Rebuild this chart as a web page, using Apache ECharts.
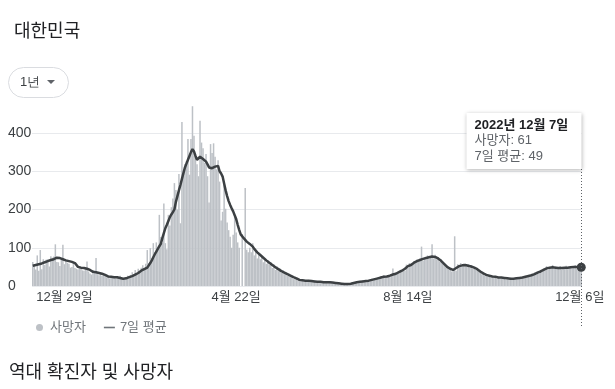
<!DOCTYPE html>
<html><head><meta charset="utf-8">
<script src="https://cdn.jsdelivr.net/npm/echarts@6/dist/echarts.min.js"></script>
<style>html,body{margin:0;padding:0;background:#fff}#c{width:615px;height:389px}</style>
</head><body><div id="c"></div>
<script>
// ---- data (daily deaths, Korea), first day 2021-12-08 ----
const startDate = [2021, 12, 8];
const deathsDec2021 = [63,53,43,80,40,94,44,70,55,69,70,51,78,74,77,109,63,62,52,69,108,57,66,61];
const deathsJan = [58,48,50,62,47,45,43,52,50,41,40,45,64,38,33,30,42,35,73,31,28,32,26,30,28,23,27,20,24,26,21];
const deathsFeb = [20,24,19,27,18,17,21,23,27,24,29,36,25,42,34,45,38,48,54,45,58,94,60,99,72,112,89,114];
const deathsMar = [96,186,128,112,216,112,96,186,158,206,229,269,251,200,293,164,429,301,319,327,384,291,384,470,393,339,318,287,432,375,360];
const deathsApr = [322,345,287,218,371,348,373,338,305,329,273,171,194,264,202,166,146,129,100,134,181,140,114,100,0,136,0,256,95,88];
const deathsMay = [100,88,112,80,90,72,82,70,78,62,73,58,68,55,63,47,57,42,52,39,46,34,42,31,36,26,32,23,28,18,24];
const deathsJun = [21,14,18,13,17,12,15,14,16,11,14,12,15,10,12,9,13,8,11,10,12,8,11,9,10,7,9,6,8,7];
const deathsJul = [7,4,6,3,7,5,6,9,7,10,9,13,10,12,15,11,14,12,17,13,19,15,21,17,22,18,25,20,28,22,27];
const deathsAug = [28,23,31,46,29,35,37,33,42,38,45,40,56,48,60,52,58,65,62,70,63,72,103,66,74,70,80,71,78,109,72];
const deathsSep = [82,70,76,64,69,58,60,49,52,44,47,38,43,130,40,57,49,60,52,58,55,51,57,48,54,46,50,42,45,38];
const deathsOct = [40,31,36,27,30,25,28,22,27,21,25,19,24,20,23,18,22,17,21,19,22,16,20,18,23,19,22,20,25,21,27];
const deathsNov = [24,29,26,32,28,35,30,38,33,42,37,46,41,52,44,50,47,55,46,51,49,45,52,43,50,47,53,44,51,48];
const deathsDec2022 = [52,47,55,46,50,44,61];

// 7-day average
const avgDec2021 = [53,54,55,56,57,58,59,60,62,63,65,66,68,69,70,72,74,74,73,72,70,68,67,66];
const avgJan = [65,64,63,62,60,55,50,49,48,48,47,46,45,44,42,40,37,36,36,35,34,33,32,30,29,27,25,25,24,24,23];
const avgFeb = [23,23,22,21,20,19,19,20,22,23,25,26,28,30,32,34,37,40,42,44,46,48,54,60,67,75,83,90];
const avgMar = [97,104,110,125,138,151,160,170,180,187,193,200,220,235,250,264,280,295,310,320,330,340,350,358,352,340,330,332,338,335,332];
const avgApr = [330,325,318,310,305,308,312,312,315,314,300,294,286,268,250,235,222,212,203,195,185,175,160,147,135,130,125,120,116,113];
const avgMay = [110,106,103,97,92,88,84,81,78,74,71,67,64,61,58,55,52,49,46,44,42,39,37,35,33,31,29,27,25,23,22];
const avgJun = [20,18,16,15,15,14,14,14,14,13,13,13,12,12,11,11,11,10,10,10,10,11,10,10,9,9,8,8,7,7];
const avgJul = [6,6,5,5,5,5,6,7,8,9,10,11,11,12,12,13,13,13,14,15,16,17,18,19,20,21,22,23,24,24,25];
const avgAug = [26,27,28,30,31,32,34,36,38,40,42,45,49,52,54,55,58,61,63,65,67,68,69,71,72,73,74,75,76,77,77];
const avgSep = [76,74,72,69,66,62,58,54,50,47,45,43,42,44,47,50,52,53,54,55,55,54,53,52,51,50,48,46,44,41];
const avgOct = [38,36,33,30,29,28,27,26,25,24,24,23,22,22,22,21,21,20,20,20,19,19,19,19,20,20,21,21,22,23,24];
const avgNov = [25,26,27,28,30,31,33,35,36,38,40,42,44,46,47,48,48,49,49,48,48,47,47,47,47,48,48,48,48,49];
const avgDec2022 = [49,50,50,50,50,49,49];

const tickDates = ['2021-12-29', '2022-04-22', '2022-08-14', '2022-12-06'];
const tickLabels = ['12월 29일', '4월 22일', '8월 14일', '12월 6일'];
const yTicks = [0, 100, 200, 300, 400];
const seriesNames = ['사망자', '7일 평균'];

const deaths = [].concat(deathsDec2021, deathsJan, deathsFeb, deathsMar, deathsApr, deathsMay,
  deathsJun, deathsJul, deathsAug, deathsSep, deathsOct, deathsNov, deathsDec2022);
const avg = [].concat(avgDec2021, avgJan, avgFeb, avgMar, avgApr, avgMay,
  avgJun, avgJul, avgAug, avgSep, avgOct, avgNov, avgDec2022);

const pad = n => (n < 10 ? '0' : '') + n;
const dates = deaths.map((_, i) => {
  const d = new Date(Date.UTC(startDate[0], startDate[1] - 1, startDate[2] + i));
  return d.getUTCFullYear() + '-' + pad(d.getUTCMonth() + 1) + '-' + pad(d.getUTCDate());
});
const last = deaths.length - 1;

const FONT = "'Liberation Sans', Arial, 'Noto Sans CJK KR', sans-serif";
const chart = echarts.init(document.getElementById('c'), null, { renderer: 'canvas' });

chart.setOption({
  animation: false,
  textStyle: { fontFamily: FONT },
  title: {
    text: '대한민국', left: 9, top: 18,
    textStyle: { fontSize: 18, fontWeight: 'normal', color: '#202124', fontFamily: FONT }
  },
  legend: {
    left: 31, top: 316, itemWidth: 11, itemHeight: 7, itemGap: 18,
    textStyle: { fontSize: 13, color: '#70757a', fontFamily: FONT },
    selectedMode: false,
    data: [
      { name: seriesNames[0], icon: 'circle', itemStyle: { color: '#bdc1c6' } },
      { name: seriesNames[1], icon: 'path://M0 0H11V1.6H0Z', itemStyle: { color: '#70757a' } }
    ]
  },
  grid: { left: 32, right: 33, top: 133, bottom: 103 },
  xAxis: {
    type: 'category', data: dates, boundaryGap: true,
    axisLine: { show: false }, axisTick: { show: false },
    axisLabel: {
      interval: (idx, val) => tickDates.indexOf(val) >= 0,
      formatter: val => tickLabels[tickDates.indexOf(val)] || '',
      color: '#3c4043', fontSize: 13, margin: 5, fontFamily: FONT
    },
    splitLine: { show: false }
  },
  yAxis: {
    type: 'value', min: yTicks[0], max: yTicks[yTicks.length - 1], interval: 100,
    axisLine: { show: false }, axisTick: { show: false },
    axisLabel: { align: 'left', margin: 24, color: '#3c4043', fontSize: 14, fontFamily: FONT },
    splitLine: { lineStyle: { color: '#e8eaed', width: 1 } }
  },
  series: [
    {
      name: seriesNames[0], type: 'bar', data: deaths, barWidth: '100%', clip: false, silent: true,
      itemStyle: { color: '#bdc1c6' }
    },
    {
      name: seriesNames[1], type: 'line', data: avg, clip: false, silent: true,
      symbol: 'circle', showSymbol: true,
      symbolSize: (v, params) => (params.dataIndex === last ? 9 : 0),
      itemStyle: { color: '#3c4043' },
      lineStyle: { color: '#3c4043', width: 2.5 }, z: 5
    }
  ]
});

const p = chart.convertToPixel({ xAxisIndex: 0, yAxisIndex: 0 }, [last, avg[last]]);
const px = Math.round(p[0]) + 0.5;
const boxW = 115, boxH = 56, boxY = 113;
const lastParts = dates[last].split('-');
const tipTitle = lastParts[0] + '년 ' + (+lastParts[1]) + '월 ' + (+lastParts[2]) + '일';

chart.setOption({
  graphic: [
    { type: 'rect', shape: { x: 8.5, y: 67.5, width: 60, height: 30, r: 15 },
      style: { fill: '#fff', stroke: '#dadce0', lineWidth: 1 } },
    { type: 'text', x: 20, y: 82, style: { text: '1년', fontSize: 13, fill: '#3c4043', font: '13px ' + FONT, verticalAlign: 'middle' } },
    { type: 'polygon', shape: { points: [[47, 80], [55, 80], [51, 84]] }, style: { fill: '#5f6368' } },
    { type: 'line', shape: { x1: px, y1: boxY + boxH, x2: px, y2: 326 },
      style: { stroke: '#5f6368', lineWidth: 1, lineDash: [1, 2] }, z: 10 },
    { type: 'rect', shape: { x: px - boxW, y: boxY, width: boxW, height: boxH },
      style: { fill: '#fff', shadowBlur: 4, shadowOffsetY: 1, shadowColor: 'rgba(0,0,0,0.3)' }, z: 20 },
    { type: 'text', x: px - boxW + 8, y: 125, z: 21,
      style: { text: tipTitle, font: 'bold 13px ' + FONT, fill: '#202124', verticalAlign: 'middle' } },
    { type: 'text', x: px - boxW + 8, y: 140, z: 21,
      style: { text: seriesNames[0] + ': ' + deaths[last], font: '13px ' + FONT, fill: '#5f6368', verticalAlign: 'middle' } },
    { type: 'text', x: px - boxW + 8, y: 156, z: 21,
      style: { text: seriesNames[1] + ': ' + avg[last], font: '13px ' + FONT, fill: '#5f6368', verticalAlign: 'middle' } },
    { type: 'text', x: 9, y: 373, style: { text: '역대 확진자 및 사망자', font: '18px ' + FONT, fill: '#202124', verticalAlign: 'middle' } }
  ]
});
</script></body></html>
